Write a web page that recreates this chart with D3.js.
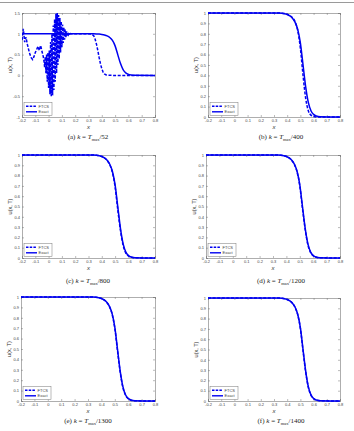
<!DOCTYPE html>
<html><head><meta charset="utf-8">
<script src="https://cdn.jsdelivr.net/npm/d3@7"></script>
<style>html,body{margin:0;padding:0;background:#fff;}svg{display:block;}</style>
</head><body>
<script>
// ---------- DATA ----------
const panelLetters = ["a","b","c","d","e","f"];
const denominators = [52, 400, 800, 1200, 1300, 1400];
const xTicks = [-0.2,-0.1,0,0.1,0.2,0.3,0.4,0.5,0.6,0.7,0.8];
const xTickLabels = ["-0.2","-0.1","0","0.1","0.2","0.3","0.4","0.5","0.6","0.7","0.8"];
const yTicksWide = [-1,-0.5,0,0.5,1,1.5];
const yTickLabelsWide = ["-1","-0.5","0","0.5","1","1.5"];
const yTicksUnit = [0,0.1,0.2,0.3,0.4,0.5,0.6,0.7,0.8,0.9,1];
const yTickLabelsUnit = ["0","0.1","0.2","0.3","0.4","0.5","0.6","0.7","0.8","0.9","1"];
const legendLabels = ["FTCS","Exact"];

// smooth grid used by the exact solution and the converged FTCS runs
const gridX = [-0.2,0.30,0.34,0.36,0.38,0.40,0.42,0.44,0.46,0.48,0.50,0.52,0.54,0.56,0.58,0.60,0.62,0.65,0.8];
const exactY = [1,1,0.999,0.997,0.993,0.985,0.972,0.95,0.91,0.84,0.71,0.50,0.29,0.14,0.06,0.025,0.01,0.003,0];
const ftcsY_b = [1,1,0.999,0.998,0.995,0.988,0.975,0.955,0.915,0.83,0.66,0.40,0.18,0.06,0.018,0.005,0.001,0,0];
const ftcsY_c = [1,1,0.999,0.997,0.993,0.985,0.971,0.948,0.905,0.83,0.69,0.47,0.27,0.125,0.05,0.02,0.007,0.002,0];
const ftcsY_d = [1,1,0.999,0.997,0.993,0.985,0.972,0.949,0.907,0.834,0.70,0.48,0.28,0.13,0.055,0.022,0.008,0.002,0];
const ftcsY_e = [1,1,0.999,0.997,0.993,0.985,0.972,0.949,0.908,0.835,0.70,0.485,0.28,0.132,0.056,0.022,0.008,0.002,0];
const ftcsY_f = [1,1,0.999,0.997,0.993,0.985,0.972,0.949,0.908,0.836,0.702,0.487,0.282,0.133,0.057,0.023,0.009,0.003,0];

// unstable FTCS run, panel (a)
const ftcsAX = [-0.20,-0.19,-0.18,-0.17,-0.16,-0.15,-0.14,-0.13,-0.12,-0.11,-0.10,-0.09,-0.08,-0.07,-0.06,-0.05,-0.04,-0.035,
  -0.030,-0.025,-0.020,-0.015,-0.010,-0.005,0.000,0.005,0.010,0.015,0.020,0.025,0.030,0.035,0.040,0.045,0.050,0.055,
  0.060,0.065,0.070,0.075,0.080,0.085,0.090,0.095,0.100,0.105,0.110,0.115,0.120,0.125,0.130,0.135,0.140,0.145,0.150,
  0.155,0.160,0.165,0.170,0.20,0.30,0.32,0.33,0.34,0.35,0.36,0.37,0.38,0.39,0.40,0.41,0.42,0.43,0.45,0.50,0.80];
const ftcsAY = [0.85,1.12,0.80,0.92,0.75,0.62,0.50,0.42,0.38,0.45,0.55,0.62,0.70,0.60,0.72,0.58,0.45,0.35,
  0.20,0.45,0.05,0.50,-0.15,0.55,-0.30,0.60,-0.45,0.80,-0.50,1.00,-0.48,1.20,-0.35,1.35,-0.15,1.48,
  0.05,1.50,0.25,1.45,0.40,1.38,0.55,1.30,0.68,1.22,0.78,1.15,0.86,1.10,0.92,1.06,0.96,1.03,0.98,
  1.015,0.995,1.005,1.00,1.00,1.00,0.995,0.98,0.95,0.87,0.75,0.60,0.43,0.28,0.16,0.08,0.035,0.012,0.002,0,0];

const ftcsSeries = [
  {x: ftcsAX, y: ftcsAY},
  {x: gridX, y: ftcsY_b},
  {x: gridX, y: ftcsY_c},
  {x: gridX, y: ftcsY_d},
  {x: gridX, y: ftcsY_e},
  {x: gridX, y: ftcsY_f}
];

// ---------- LAYOUT ----------
const W = 354, H = 431;
const layout = [
  {l:22, r:155, t:13, b:117, cx:88, cy:139},
  {l:208, r:340, t:13, b:117, cx:281, cy:139},
  {l:22, r:155, t:155, b:258, cx:88, cy:283},
  {l:206, r:340, t:155, b:258, cx:281, cy:283},
  {l:21, r:155, t:297, b:401, cx:88, cy:423},
  {l:208, r:340, t:298, b:401, cx:281, cy:423}
];
const blue = "#0000f0";
const tickFont = "Liberation Sans, Arial, sans-serif";

const svg = d3.select("body").append("svg").attr("width", W).attr("height", H);
svg.append("line").attr("x1",0).attr("x2",W).attr("y1",2.5).attr("y2",2.5)
  .attr("stroke","#9a9a9a").attr("stroke-width",1);

layout.forEach((L, i) => {
  const wide = i === 0;
  const yDom = wide ? [-1, 1.5] : [0, 1];
  const yT = wide ? yTicksWide : yTicksUnit;
  const yTL = wide ? yTickLabelsWide : yTickLabelsUnit;
  const x = d3.scaleLinear().domain([-0.2, 0.8]).range([L.l, L.r]);
  const y = d3.scaleLinear().domain(yDom).range([L.b, L.t]);
  const g = svg.append("g");

  const cid = "clip" + i;
  g.append("clipPath").attr("id", cid).append("rect")
    .attr("x", L.l).attr("y", L.t - 1).attr("width", L.r - L.l).attr("height", L.b - L.t + 2);

  const tk = 2;
  const axB = d3.axisBottom(x).tickValues(xTicks).tickSize(-tk).tickPadding(2.5).tickFormat((d,j)=>xTickLabels[j]);
  const axT = d3.axisTop(x).tickValues(xTicks).tickSize(-tk).tickFormat("");
  const axL = d3.axisLeft(y).tickValues(yT).tickSize(-tk).tickPadding(2).tickFormat((d,j)=>yTL[j]);
  const axR = d3.axisRight(y).tickValues(yT).tickSize(-tk).tickFormat("");
  const styleAx = sel => {
    sel.select(".domain").attr("stroke","#777").attr("stroke-width",0.6);
    sel.selectAll(".tick line").attr("stroke","#777").attr("stroke-width",0.5);
    sel.selectAll("text").attr("font-family", tickFont).attr("font-size", 4).attr("fill","#444");
  };
  g.append("g").attr("transform",`translate(0,${L.b})`).call(axB).call(styleAx);
  g.append("g").attr("transform",`translate(0,${L.t})`).call(axT).call(styleAx);
  g.append("g").attr("transform",`translate(${L.l},0)`).call(axL).call(styleAx);
  g.append("g").attr("transform",`translate(${L.r},0)`).call(axR).call(styleAx);

  const smooth = d3.line().x(d => x(d[0])).y(d => y(d[1])).curve(d3.curveMonotoneX);
  const straight = d3.line().x(d => x(d[0])).y(d => y(d[1]));
  const exactPts = gridX.map((v, j) => [v, exactY[j]]);
  const f = ftcsSeries[i];
  const ftcsPts = f.x.map((v, j) => [v, f.y[j]]);
  const plot = g.append("g").attr("clip-path", `url(#${cid})`);
  plot.append("path").attr("d", smooth(exactPts)).attr("fill","none")
    .attr("stroke", blue).attr("stroke-width", 1.5);
  plot.append("path").attr("d", (wide ? straight : smooth)(ftcsPts)).attr("fill","none")
    .attr("stroke", blue).attr("stroke-width", 1.5).attr("stroke-dasharray","3,1.6");

  const lx = L.l + 2, ly = L.b - 14.5, lw = 28, lh = 13;
  const lg = g.append("g");
  lg.append("rect").attr("x", lx).attr("y", ly).attr("width", lw).attr("height", lh)
    .attr("fill","#fff").attr("stroke","#777").attr("stroke-width",0.5);
  legendLabels.forEach((lab, j) => {
    const yy = ly + 3.7 + j * 5.6;
    lg.append("line").attr("x1", lx + 2).attr("x2", lx + 13).attr("y1", yy).attr("y2", yy)
      .attr("stroke", blue).attr("stroke-width", 1.4)
      .attr("stroke-dasharray", j === 0 ? "2.5,1.2" : null);
    lg.append("text").attr("x", lx + 14.5).attr("y", yy + 1.4).text(lab)
      .attr("font-family", tickFont).attr("font-size", 4).attr("fill","#444");
  });

  g.append("text").attr("x", (L.l + L.r) / 2).attr("y", L.b + 11.5).attr("text-anchor","middle")
    .attr("font-family", tickFont).attr("font-style","italic").attr("font-size", 6).attr("fill","#333").text("x");
  g.append("text").attr("transform", `translate(${L.l - 10.5},${(L.t + L.b) / 2}) rotate(-90)`)
    .attr("text-anchor","middle").attr("font-family", tickFont).attr("font-size", 5.5).attr("fill","#333")
    .text("u(x, T)");

  const cap = g.append("text").attr("x", L.cx).attr("y", L.cy).attr("text-anchor","middle")
    .attr("font-family","Liberation Serif, DejaVu Serif, serif").attr("font-size", 7).attr("fill","#222");
  cap.append("tspan").text(`(${panelLetters[i]}) `);
  cap.append("tspan").attr("font-style","italic").text("k");
  cap.append("tspan").text(" = ");
  cap.append("tspan").attr("font-style","italic").text("T");
  cap.append("tspan").attr("font-size", 4.5).attr("dy", 1.5).text("max");
  cap.append("tspan").attr("dy", -1.5).text("/" + denominators[i]);
});
</script>
</body></html>
